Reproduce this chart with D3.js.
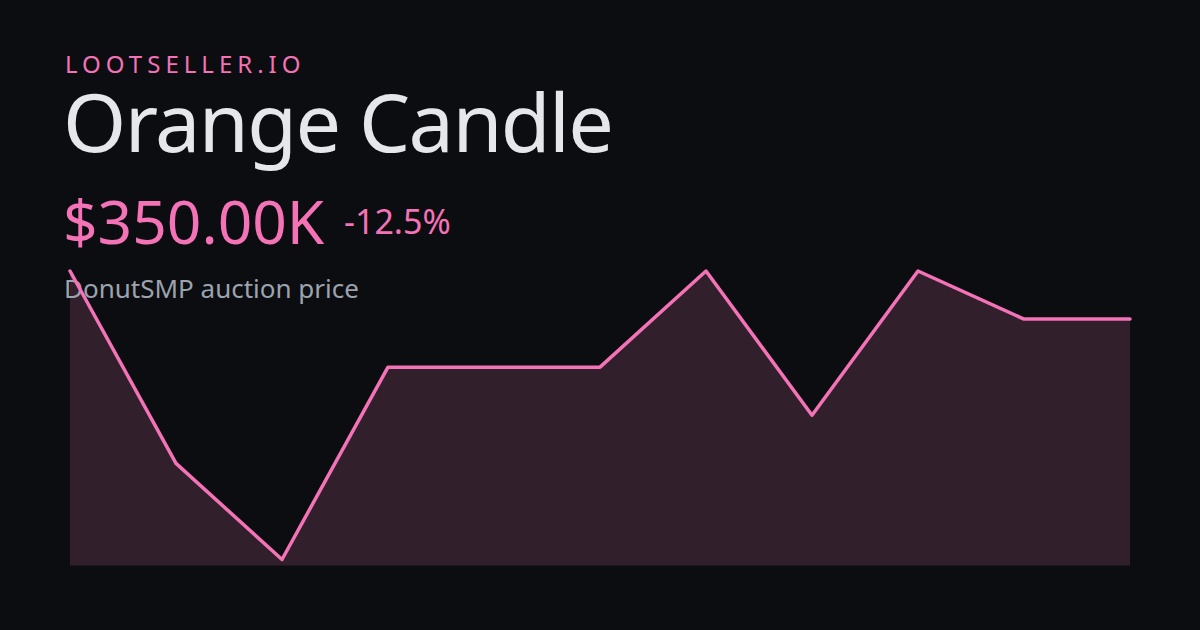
<!DOCTYPE html>
<html><head><meta charset="utf-8">
<script src="https://cdn.jsdelivr.net/npm/d3@7/dist/d3.min.js"></script>
<style>html,body{margin:0;padding:0;background:#0c0d10;}svg{display:block;}</style>
</head><body>
<svg id="c" width="1200" height="630"></svg>
<script>
const brand = "LOOTSELLER.IO";
const itemName = "Orange Candle";
const priceLabel = "$350.00K";
const changeLabel = "-12.5%";
const subtitle = "DonutSMP auction price";
const periods = [0,1,2,3,4,5,6,7,8,9,10];
const prices = [400,200,100,300,300,300,400,250,400,350,350];

const svg = d3.select("#c");
svg.append("rect").attr("width",1200).attr("height",630).attr("fill","#0c0d10");

const x = d3.scaleLinear().domain([0, periods.length-1]).range([70,1130]);
const y = d3.scaleLinear().domain([100,400]).range([559.5,271]);
const bottom = 565.5;

const data = periods.map((p,i)=>({p, v:prices[i]}));
svg.append("path").datum(data)
  .attr("d", d3.area().x(d=>x(d.p)).y0(bottom).y1(d=>y(d.v)))
  .attr("fill","#31202c");

const font = "'Noto Sans', sans-serif";
svg.append("text").attr("x",65).attr("y",73).text(brand)
  .attr("font-family",font).attr("font-size",24).attr("letter-spacing",5).attr("fill","#f472b6");
svg.append("text").attr("x",63).attr("y",152).text(itemName)
  .attr("font-family",font).attr("font-size",81).attr("letter-spacing",-1.6).attr("fill","#e5e7eb");
svg.append("text").attr("x",63).attr("y",244).text(priceLabel)
  .attr("font-family",font).attr("font-size",60.5).attr("letter-spacing",0).attr("fill","#f472b6");
svg.append("text").attr("x",344).attr("y",234).text(changeLabel)
  .attr("font-family",font).attr("font-size",34).attr("fill","#f472b6");
svg.append("text").attr("x",64).attr("y",298).text(subtitle)
  .attr("font-family",font).attr("font-size",26).attr("fill","#9ca3af");

svg.append("path").datum(data)
  .attr("d", d3.line().x(d=>x(d.p)).y(d=>y(d.v)))
  .attr("fill","none").attr("stroke","#f472b6").attr("stroke-width",3.5)
  .attr("stroke-linejoin","round").attr("stroke-linecap","round");
</script>
</body></html>
